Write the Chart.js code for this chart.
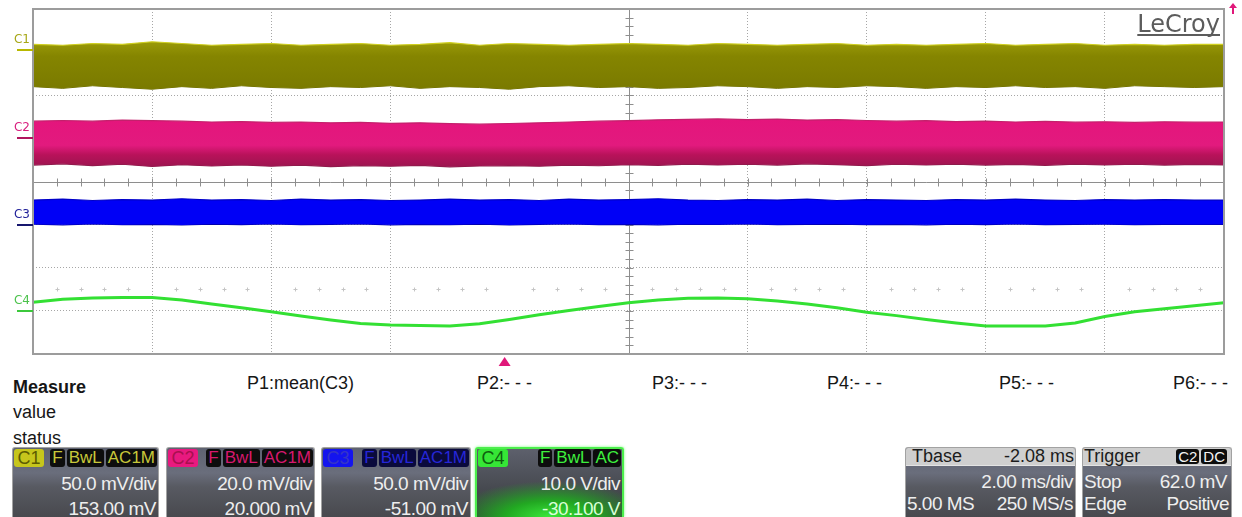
<!DOCTYPE html>
<html lang="en">
<head>
<meta charset="UTF-8">
<title>LeCroy capture</title>
<script src="https://cdn.jsdelivr.net/npm/chart.js@4.4.0/dist/chart.umd.min.js"></script>
<style>
  body { margin: 0; background: #fff; }
  #scope { position: relative; width: 1242px; height: 517px; overflow: hidden; font-family: "Liberation Sans", Arial, sans-serif; }
  #plot { position: absolute; left: 0; top: 0; width: 1242px; height: 372px; }
  .t { position: absolute; font-size: 18px; line-height: 18px; color: #161616; white-space: pre; }
  .box { position: absolute; top: 447px; height: 70px; box-sizing: border-box; border: 1px solid #a2a2a2; border-bottom: none;
         border-radius: 3px 3px 0 0; overflow: hidden;
         background: linear-gradient(#5e6271 0%, #6a6e7c 36%, #585a62 56%, #48494e 100%); }
  .hdr { position: absolute; left: 1px; right: 1px; top: 1px; height: 18px; display: flex; align-items: center; }
  .name { width: 30px; height: 18px; border-radius: 3px; font-size: 18px; line-height: 18px; text-align: center; }
  .tags { margin-left: auto; display: flex; gap: 2px; }
  .tag { background: #0d0d0d; border-radius: 3px; height: 18px; line-height: 18px; font-size: 17px; padding: 0 2px; }
  .val { position: absolute; right: 2px; font-size: 19px; line-height: 19px; letter-spacing: -0.5px; color: #eeeeee; white-space: pre; }
  .lft { position: absolute; left: 1px; font-size: 19px; line-height: 19px; letter-spacing: -0.5px; color: #eeeeee; white-space: pre; }
  .light { position: absolute; left: 0; right: 0; top: 0; height: 17px; background: #cfcfcf; border-bottom: 1px solid #e4e4e4; }
  .lt { position: absolute; top: 0; font-size: 18px; line-height: 17px; color: #1c1c1c; white-space: pre; }
  .ttags { position: absolute; right: 4px; top: 1px; display: flex; gap: 2px; }
  .ttags span { background: #0d0d0d; color: #f4f4f4; border-radius: 3px; height: 15px; line-height: 15px; font-size: 15px; padding: 0 2px; }
</style>
</head>
<body>
<div id="scope">
  <div id="plot"><canvas id="scopeChart"></canvas></div>

  <div class="t" style="left:13px;top:378px;font-weight:bold">Measure</div>
  <div class="t" style="left:13px;top:403px">value</div>
  <div class="t" style="left:13px;top:429px">status</div>
  <div class="t" style="left:247px;top:374px">P1:mean(C3)</div>
  <div class="t" style="left:477px;top:374px">P2:- - -</div>
  <div class="t" style="left:652px;top:374px">P3:- - -</div>
  <div class="t" style="left:827px;top:374px">P4:- - -</div>
  <div class="t" style="left:999px;top:374px">P5:- - -</div>
  <div class="t" style="left:1173px;top:374px">P6:- - -</div>

  <div class="box" style="left:12px;width:147px">
    <div class="hdr"><div class="name" style="background:#c6c61c;color:#5c5c00">C1</div>
      <div class="tags" style="color:#c8c83a"><span class="tag">F</span><span class="tag">BwL</span><span class="tag">AC1M</span></div></div>
    <div class="val" style="top:26px">50.0 mV/div</div>
    <div class="val" style="top:51px">153.00 mV</div>
  </div>
  <div class="box" style="left:166px;width:149px">
    <div class="hdr"><div class="name" style="background:#e8197f;color:#a8104f">C2</div>
      <div class="tags" style="color:#d8186e"><span class="tag">F</span><span class="tag">BwL</span><span class="tag">AC1M</span></div></div>
    <div class="val" style="top:26px">20.0 mV/div</div>
    <div class="val" style="top:51px">20.000 mV</div>
  </div>
  <div class="box" style="left:321px;width:150px">
    <div class="hdr"><div class="name" style="background:#1414ee;color:#3434c8">C3</div>
      <div class="tags" style="color:#2626d8"><span class="tag" style="background:#0a0a3c">F</span><span class="tag" style="background:#0a0a3c">BwL</span><span class="tag" style="background:#0a0a3c">AC1M</span></div></div>
    <div class="val" style="top:26px">50.0 mV/div</div>
    <div class="val" style="top:51px">-51.00 mV</div>
  </div>
  <div class="box" style="left:475px;width:149px;border:2px solid #4cee4c;border-bottom:none;box-shadow:0 0 3px #7f7;
       background:radial-gradient(ellipse 80% 62% at 50% 100%, #3ae83a 0%, #22a822 38%, rgba(40,70,40,0) 85%), linear-gradient(#5d606c 0%, #4a4d54 50%, #35383c 100%)">
    <div class="hdr" style="top:0"><div class="name" style="background:#36e636;color:#0e5e0e">C4</div>
      <div class="tags" style="color:#3ef03e"><span class="tag">F</span><span class="tag">BwL</span><span class="tag">AC</span></div></div>
    <div class="val" style="top:25px">10.0 V/div</div>
    <div class="val" style="top:50px;color:#d8ffd8">-30.100 V</div>
  </div>

  <div class="box" style="left:905px;width:171px">
    <div class="light"><span class="lt" style="left:6px">Tbase</span><span class="lt" style="right:1px">-2.08 ms</span></div>
    <div class="val" style="top:24px">2.00 ms/div</div>
    <div class="lft" style="top:46px">5.00 MS</div>
    <div class="val" style="top:46px">250 MS/s</div>
  </div>
  <div class="box" style="left:1082px;width:150px">
    <div class="light"><span class="lt" style="left:1px">Trigger</span>
      <div class="ttags"><span>C2</span><span>DC</span></div></div>
    <div class="lft" style="top:24px">Stop</div>
    <div class="val" style="top:24px;right:4px">62.0 mV</div>
    <div class="lft" style="top:46px">Edge</div>
    <div class="val" style="top:46px">Positive</div>
  </div>
</div>

<script>
// horizontal position of every sample, in divisions (10 div across)
const divX = [0, 0.25, 0.5, 0.75, 1, 1.25, 1.5, 1.75, 2, 2.25, 2.5, 2.75, 3, 3.25, 3.5, 3.75, 4, 4.25, 4.5, 4.75,
              5, 5.25, 5.5, 5.75, 6, 6.25, 6.5, 6.75, 7, 7.25, 7.5, 7.75, 8, 8.25, 8.5, 8.75, 9, 9.25, 9.5, 9.75, 10];

// noise envelopes (mV)
const c1TopMv = [6, 5, 7, 6, 9, 7, 5, 6, 7, 5, 6, 7, 5, 6, 8, 5, 7, 6, 5, 6, 7, 6, 5, 7, 6, 5, 6, 7, 5, 6, 5, 6, 7, 5, 6, 7, 5, 6, 5, 6, 6];
const c1BotMv = [-43, -45, -42, -44, -46, -43, -45, -42, -44, -45, -43, -44, -42, -45, -43, -44, -46, -43, -42, -44, -43,
                 -45, -44, -42, -43, -45, -43, -44, -42, -43, -45, -43, -44, -42, -44, -43, -45, -42, -43, -44, -43];
const c2TopMv = [8.0, 8.3, 8.0, 8.5, 8.2, 8.0, 7.6, 7.8, 7.4, 7.6, 7.2, 7.4, 7.0, 7.2, 6.8, 6.6, 6.9, 7.2, 7.6, 8.0, 8.2,
                 8.6, 8.8, 9.0, 8.7, 8.9, 8.5, 8.7, 8.3, 8.0, 8.2, 7.8, 8.0, 7.6, 7.9, 7.5, 7.7, 7.4, 7.7, 7.5, 7.6];
const c2BotMv = [-12.4, -11.8, -12.6, -12.0, -13.0, -12.2, -12.8, -12.3, -12.9, -12.4, -13.1, -12.6, -12.9, -12.5, -13.2,
                 -12.8, -12.6, -12.9, -12.4, -12.7, -12.2, -12.5, -11.9, -12.3, -12.0, -12.4, -11.8, -12.2, -12.6, -12.0,
                 -12.3, -11.9, -12.4, -12.1, -12.5, -11.9, -12.3, -12.0, -12.4, -12.1, -12.3];
const c3TopMv = [29.5, 30.5, 29.0, 30.0, 29.5, 31.0, 29.5, 30.0, 29.0, 30.5, 29.5, 30.0, 29.0, 29.5, 30.5, 29.5, 30.0, 29.0,
                 30.5, 29.5, 30.0, 31.0, 29.5, 29.0, 30.0, 29.5, 30.5, 29.0, 30.0, 29.5, 29.0, 30.0, 29.5, 30.5, 29.5, 29.0,
                 30.0, 29.5, 30.0, 29.5, 29.5];
const c3BotMv = [1.5, 0.8, 1.8, 1.0, 1.4, 0.6, 1.6, 1.1, 1.8, 0.9, 1.3, 1.7, 0.8, 1.4, 1.0, 1.6, 0.7, 1.3, 1.8, 1.0, 1.4,
                 0.8, 1.5, 1.2, 1.7, 0.9, 1.3, 1.6, 1.0, 1.4, 0.8, 1.5, 1.1, 1.7, 0.9, 1.3, 1.5, 1.0, 1.4, 1.2, 1.3];
// C4 sine (V)
const c4Volts = [2.1, 2.8, 3.1, 3.2, 3.2, 2.6, 1.7, 0.8, -0.1, -1.1, -2.0, -2.8, -3.2, -3.3, -3.4, -2.9, -1.9, -0.8, 0.2, 1.1,
                 2.0, 2.6, 3.0, 3.1, 2.9, 2.4, 1.7, 0.8, -0.2, -1.0, -1.9, -2.7, -3.4, -3.4, -3.4, -2.7, -1.2, -0.1, 0.6, 1.3, 2.0];

// channel settings, as on the scope panel
const channelNames = ['C1', 'C2', 'C3', 'C4'];
const voltsPerDiv = [50, 20, 50, 10];        // mV, mV, mV, V
const channelOffsets = [153, 20, -51, -30.1];
const msPerDiv = 2.00;
const triggerDelayMs = -2.08;
const triggerLevelMv = 62.0;                 // on C2

function toDiv(ch, v) { return (v + channelOffsets[ch]) / voltsPerDiv[ch]; }
function pts(ch, arr) { return arr.map((v, i) => ({x: divX[i], y: toDiv(ch, v)})); }

function bandFill(topArr, botArr, ch, stops) {
  return function(ctx) {
    const chart = ctx.chart;
    if (!chart.chartArea) return stops[0][1];
    const y = chart.scales.y;
    const t = y.getPixelForValue(toDiv(ch, Math.max(...topArr)));
    const b = y.getPixelForValue(toDiv(ch, Math.min(...botArr)));
    const g = chart.ctx.createLinearGradient(0, t, 0, b);
    stops.forEach(s => g.addColorStop(s[0], s[1]));
    return g;
  };
}

const labelColors = ['#a6a615', '#d81e7e', '#22229a', '#4cc24c'];
const markerColors = ['#b8b800', '#b0155e', '#16166e', '#3cc83c'];

const scopePlugin = {
  id: 'scope',
  beforeDatasetsDraw(chart) {
    const {ctx, chartArea: a, scales: {x, y}} = chart;
    ctx.save();
    const cx = Math.round(x.getPixelForValue(5)) + 0.5;
    const cy = Math.round(y.getPixelForValue(0)) + 0.5;
    ctx.strokeStyle = '#8e8e8e';
    ctx.lineWidth = 1;
    ctx.beginPath();
    ctx.moveTo(a.left, cy); ctx.lineTo(a.right, cy);
    ctx.moveTo(cx, a.top); ctx.lineTo(cx, a.bottom);
    for (let i = 1; i < 50; i++) {
      const px = Math.round(x.getPixelForValue(i / 5)) + 0.5;
      ctx.moveTo(px, cy - 4); ctx.lineTo(px, cy + 4);
    }
    for (let i = -19; i < 20; i++) {
      const py = Math.round(y.getPixelForValue(i / 5)) + 0.5;
      ctx.moveTo(cx - 4, py); ctx.lineTo(cx + 4, py);
    }
    ctx.stroke();
    // faint sub-division marks
    ctx.strokeStyle = '#c4c4c4';
    ctx.beginPath();
    const ry = Math.round(y.getPixelForValue(-2.5)) + 0.5;
    for (let i = 1; i < 50; i++) {
      if (i % 5 === 0) continue;
      const px = Math.round(x.getPixelForValue(i / 5)) + 0.5;
      ctx.moveTo(px - 2, ry); ctx.lineTo(px + 2, ry);
      ctx.moveTo(px, ry - 2); ctx.lineTo(px, ry + 2);
    }
    ctx.stroke();
    ctx.restore();
  },
  afterDraw(chart) {
    const {ctx, chartArea: a, scales: {x, y}} = chart;
    ctx.save();
    // frame
    ctx.strokeStyle = '#9c9c9c';
    ctx.lineWidth = 2;
    ctx.strokeRect(a.left, a.top, a.right - a.left, a.bottom - a.top);
    // channel labels and ground markers
    ctx.font = '12px "DejaVu Sans", sans-serif';
    ctx.textAlign = 'right';
    ctx.textBaseline = 'alphabetic';
    channelNames.forEach((name, ch) => {
      const my = Math.round(y.getPixelForValue(toDiv(ch, 0)));
      ctx.fillStyle = labelColors[ch];
      ctx.fillText(name, 30, my - 7);
      ctx.strokeStyle = markerColors[ch];
      ctx.lineWidth = 2;
      ctx.beginPath();
      ctx.moveTo(17, my); ctx.lineTo(a.left, my);
      ctx.stroke();
    });
    // LeCroy logo
    ctx.fillStyle = '#5c5c5c';
    ctx.font = '24px "DejaVu Sans", sans-serif';
    ctx.textAlign = 'right';
    ctx.fillText('LeCroy', a.right - 4, 32);
    const w = ctx.measureText('LeCroy').width;
    ctx.fillRect(a.right - 4 - w, 34, w, 2);
    // trigger position marker
    const tx = x.getPixelForValue(5 + triggerDelayMs / msPerDiv);
    ctx.fillStyle = '#e0187a';
    ctx.beginPath();
    ctx.moveTo(tx, a.bottom + 3); ctx.lineTo(tx + 6, a.bottom + 12); ctx.lineTo(tx - 6, a.bottom + 12);
    ctx.closePath(); ctx.fill();
    // trigger level is above the screen: arrow at the top right
    if (toDiv(1, triggerLevelMv) > y.max) {
      const ax = a.right + 9;
      ctx.beginPath();
      ctx.moveTo(ax, 3); ctx.lineTo(ax + 4, 8); ctx.lineTo(ax - 4, 8);
      ctx.closePath(); ctx.fill();
      ctx.fillRect(ax - 1, 7, 2, 7);
    }
    ctx.restore();
  }
};

const gridColor = c => (c.tick.value === 0 || c.tick.value === 5 || c.tick.value === 10 ||
                        c.tick.value === -4 || c.tick.value === 4) ? 'rgba(0,0,0,0)' : '#a6a6a6';

new Chart(document.getElementById('scopeChart'), {
  type: 'line',
  data: {
    datasets: [
      {data: pts(0, c1TopMv), fill: '+1', borderColor: '#cfcf1e', borderWidth: 1.2,
       backgroundColor: bandFill(c1TopMv, c1BotMv, 0, [[0, '#9a9a08'], [0.3, '#858500'], [1, '#7a7a00']])},
      {data: pts(0, c1BotMv), fill: false, borderColor: '#6c6c00', borderWidth: 1},
      {data: pts(1, c2TopMv), fill: '+1', borderColor: '#c4206c', borderWidth: 1.2,
       backgroundColor: bandFill(c2TopMv, c2BotMv, 1, [[0, '#e4157c'], [0.55, '#e21a7e'], [0.75, '#b8125a'], [1, '#9c1550']])},
      {data: pts(1, c2BotMv), fill: false, borderColor: '#8a1c4a', borderWidth: 1.2},
      {data: pts(2, c3TopMv), fill: '+1', borderColor: '#0000c8', borderWidth: 1.2, backgroundColor: '#0000f6'},
      {data: pts(2, c3BotMv), fill: false, borderColor: '#0000a8', borderWidth: 1.2},
      {data: pts(3, c4Volts), fill: false, borderColor: '#33e033', borderWidth: 3}
    ]
  },
  options: {
    responsive: true,
    maintainAspectRatio: false,
    animation: false,
    events: [],
    layout: {padding: {left: 33, top: 9, right: 18, bottom: 18}},
    elements: {point: {radius: 0}, line: {tension: 0}},
    plugins: {legend: {display: false}, tooltip: {enabled: false}},
    scales: {
      x: {type: 'linear', min: 0, max: 10,
          ticks: {display: false, stepSize: 1},
          grid: {color: gridColor, lineWidth: 1, drawTicks: false},
          border: {display: false, dash: [1, 2]}},
      y: {type: 'linear', min: -4, max: 4,
          ticks: {display: false, stepSize: 1},
          grid: {color: gridColor, lineWidth: 1, drawTicks: false},
          border: {display: false, dash: [1, 2]}}
    }
  },
  plugins: [scopePlugin]
});
</script>
</body>
</html>
